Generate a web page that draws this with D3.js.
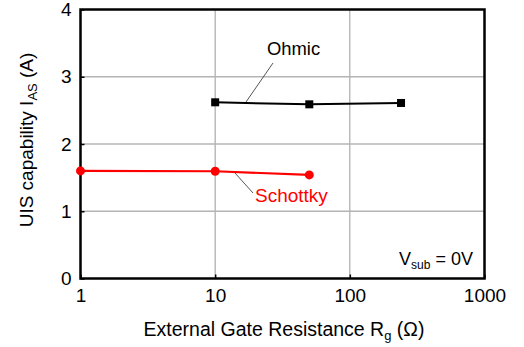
<!DOCTYPE html>
<html><head><meta charset="utf-8">
<script src="https://cdn.jsdelivr.net/npm/d3@7"></script>
<style>
body{margin:0;background:#fff;}
svg{display:block;font-family:"Liberation Sans",Arial,sans-serif;}
</style></head>
<body><svg id="c" width="524" height="347"></svg>
<script>
const ohmicRg = [10, 50, 240];
const ohmicI = [2.62, 2.59, 2.61];
const schottkyRg = [1, 10, 50];
const schottkyI = [1.60, 1.595, 1.54];
const xTicks = [1, 10, 100, 1000];
const yTicks = [0, 1, 2, 3, 4];

const svg = d3.select("#c");
const L = 80.5, R = 484.5, T = 9.5, B = 278.5;
const x = d3.scaleLog().domain([1, 1000]).range([L, R]);
const y = d3.scaleLinear().domain([0, 4]).range([B, T]);

// grid
const g = svg.append("g");
g.selectAll("line.vx").data(xTicks.slice(1, -1)).enter().append("line")
  .attr("x1", d => x(d)).attr("x2", d => x(d)).attr("y1", T).attr("y2", B)
  .attr("stroke", "#9a9a9a").attr("stroke-width", 1);
g.selectAll("line.hy").data(yTicks.slice(1, -1)).enter().append("line")
  .attr("x1", L).attr("x2", R).attr("y1", d => y(d)).attr("y2", d => y(d))
  .attr("stroke", "#b4b4b4").attr("stroke-width", 1.3);

// axes
const xAxis = d3.axisBottom(x).tickValues(xTicks).tickFormat(d3.format("d")).tickSize(-4).tickPadding(10);
const yAxis = d3.axisLeft(y).tickValues(yTicks).tickFormat(d3.format("d")).tickSize(-4).tickPadding(9);
const gx = svg.append("g").attr("transform", `translate(0,${B})`).call(xAxis);
const gy = svg.append("g").attr("transform", `translate(${L},0)`).call(yAxis);
[gx, gy].forEach(a => {
  a.select(".domain").remove();
  a.selectAll("line").attr("stroke", "#000").attr("stroke-width", 1.5);
  a.selectAll("text").attr("font-size", 19).attr("fill", "#000")
   .attr("font-family", "Liberation Sans, Arial, sans-serif");
});

// frame
svg.append("rect").attr("x", L).attr("y", T).attr("width", R - L).attr("height", B - T)
  .attr("fill", "none").attr("stroke", "#000").attr("stroke-width", 2.5);

// series
const line = d3.line().x(d => x(d[0])).y(d => y(d[1]));
const ohm = ohmicRg.map((d, i) => [d, ohmicI[i]]);
const sch = schottkyRg.map((d, i) => [d, schottkyI[i]]);
svg.append("path").datum(ohm).attr("d", line).attr("fill", "none").attr("stroke", "#000").attr("stroke-width", 2);
svg.append("path").datum(sch).attr("d", line).attr("fill", "none").attr("stroke", "#ff0000").attr("stroke-width", 2.2);
svg.selectAll("rect.m").data(ohm).enter().append("rect")
  .attr("x", d => x(d[0]) - 4).attr("y", d => y(d[1]) - 4).attr("width", 8).attr("height", 8).attr("fill", "#000");
svg.selectAll("circle.m").data(sch).enter().append("circle")
  .attr("cx", d => x(d[0])).attr("cy", d => y(d[1])).attr("r", 4.5).attr("fill", "#ff0000");

// annotations
svg.append("line").attr("x1", 246).attr("y1", 102).attr("x2", 273).attr("y2", 63).attr("stroke", "#555").attr("stroke-width", 1);
svg.append("text").attr("x", 267).attr("y", 55).attr("font-size", 18.4).text("Ohmic");
svg.append("line").attr("x1", 235).attr("y1", 173).attr("x2", 253).attr("y2", 193).attr("stroke", "#555").attr("stroke-width", 1);
svg.append("text").attr("x", 255).attr("y", 202).attr("font-size", 19).attr("fill", "#ff0000").text("Schottky");

const vt = svg.append("text").attr("x", 399).attr("y", 265).attr("font-size", 18);
vt.append("tspan").text("V");
vt.append("tspan").attr("font-size", 12).attr("dy", 4).text("sub");
vt.append("tspan").attr("dy", -4).text(" = 0V");

// axis titles
const xt = svg.append("text").attr("x", 284).attr("y", 336).attr("text-anchor", "middle").attr("font-size", 19.5);
xt.append("tspan").text("External Gate Resistance R");
xt.append("tspan").attr("font-size", 13).attr("dy", 4).text("g");
xt.append("tspan").attr("dy", -4).text(" (Ω)");

const yt = svg.append("text").attr("transform", "translate(33,140) rotate(-90)").attr("text-anchor", "middle").attr("font-size", 19);
yt.append("tspan").text("UIS capability I");
yt.append("tspan").attr("font-size", 13).attr("dy", 4).text("AS");
yt.append("tspan").attr("dy", -4).text(" (A)");
</script></body></html>
